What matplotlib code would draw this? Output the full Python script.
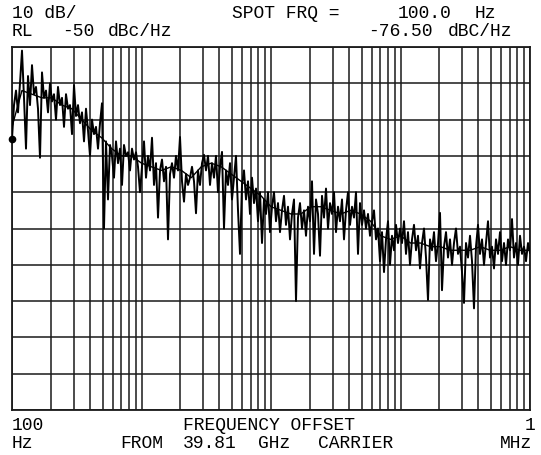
import numpy as np
import matplotlib
matplotlib.use('Agg')
import matplotlib.pyplot as plt

# ---------------------------------------------------------------------------
# Data: phase noise trace, 100 Hz .. 1 MHz offset (dBc/Hz)
# ---------------------------------------------------------------------------

START_HZ = 1e2
STOP_HZ = 1e6
REF_LEVEL = -50      # dBc/Hz, top of screen
DB_PER_DIV = 10
N_DIV = 10

SPOT_FREQ_HZ = 100.0
SPOT_LEVEL = -76.50

# raw trace, 100 Hz .. 1 kHz
decade_1 = [
    -75.3, -66, -62, -68, -60, -51, -64, -78, -58, -66, -55, -63, -61, -67,
    -80.5, -57, -64, -62, -68, -60, -65, -63, -70, -61, -66, -64, -72, -63,
    -67, -66, -74, -60.5, -69, -66, -71, -68, -76, -67, -73, -80, -70, -74,
    -72, -78, -71, -65.5, -100, -76, -92, -77, -80, -86, -76, -82, -78, -88,
    -77, -80, -79, -84, -78, -81, -79, -83, -90,
]
# 1 kHz .. 10 kHz
decade_2 = [
    -83, -76, -86, -80, -84, -75, -88, -82, -97, -84, -81, -87, -83, -103,
    -85, -82, -86, -80, -84, -74.8, -87, -92.6, -85, -88, -86, -83, -87,
    -95.8, -84, -88, -82, -79.7, -84, -80, -88, -82, -86, -80, -90, -83,
    -78.9, -100, -84, -88, -82, -92, -86, -80, -95, -107, -88, -84, -92,
    -87, -96, -86, -93, -89, -98, -90, -104, -92, -96, -90, -101,
]
# 10 kHz .. 100 kHz
decade_3 = [
    -94, -90, -98, -93, -101, -95, -91, -99, -94, -103, -96, -92, -120, -97,
    -93, -100, -95, -102, -94, -98, -87, -107, -92, -96, -107.5, -91, -97,
    -89, -100, -93, -96, -90, -101, -94, -98, -92, -103, -95, -90, -99, -94,
    -97, -90, -107, -93, -99, -95, -100, -96, -102, -98, -95, -103, -100,
    -109, -101, -112, -103, -98, -110, -102, -106, -99, -104, -100,
]
# 100 kHz .. 1 MHz
decade_4 = [
    -104, -98, -107, -101, -110, -103, -99, -106, -102, -111, -104, -100,
    -108, -119.7, -103, -106, -101, -109, -104, -95.7, -117, -105, -101,
    -108, -103, -110, -104, -100, -107, -105, -112, -120.5, -104, -108,
    -102, -109, -122, -105, -99, -107, -103, -110, -104, -98, -108, -105,
    -111, -103, -107, -101, -109, -104, -110, -103, -106, -97.4, -108, -104,
    -110, -102, -107, -105, -109, -104, -106.7,
]

# averaged (smoothed) trace drawn over the raw one
smoothed = [
    -72, -62, -63, -64, -64, -66, -67, -70, -73, -75, -78, -80, -80,
    -82, -83, -84, -83, -84, -86, -83, -82, -83, -85, -87, -89, -91,
    -94, -95, -96, -96, -94, -94, -95, -96, -95, -96, -98, -102, -103,
    -102, -104, -104, -105, -105, -106, -106, -106, -105, -106, -106, -105,
    -106, -106,
]

noise_dbc = np.array(decade_1 + decade_2 + decade_3 + decade_4)
# instrument sweeps log-spaced points across the span
freq_hz = np.logspace(np.log10(START_HZ), np.log10(STOP_HZ), len(noise_dbc))
smooth_hz = np.logspace(np.log10(START_HZ), np.log10(STOP_HZ), len(smoothed))

# ---------------------------------------------------------------------------
# Plot
# ---------------------------------------------------------------------------

W, H = 541, 455
fig = plt.figure(figsize=(W / 100, H / 100), dpi=100)
ax = fig.add_axes([12 / W, 1 - 410 / H, 518 / W, 363 / H])

bottom = REF_LEVEL - N_DIV * DB_PER_DIV
ax.set_xscale('log')
ax.set_xlim(START_HZ, STOP_HZ)
ax.set_ylim(bottom, REF_LEVEL)

# graticule: 1..9 per decade, 10 dB per division
grid_x = [m * 10 ** e for e in range(2, 6) for m in range(1, 10)] + [STOP_HZ]
for gx in grid_x:
    ax.axvline(gx, color='#1a1a1a', linewidth=1.1, zorder=1)
for gy in range(int(bottom), REF_LEVEL + 1, DB_PER_DIV):
    ax.axhline(gy, color='#1a1a1a', linewidth=1.1, zorder=1)

ax.plot(freq_hz, noise_dbc, color='black', linewidth=1.4, zorder=3)
ax.plot(smooth_hz, smoothed, color='black', linewidth=1.0, zorder=3)
ax.plot([SPOT_FREQ_HZ], [noise_dbc[0]], 'o', color='black', markersize=4.5,
        clip_on=False, zorder=4)

ax.set_xticks([])
ax.set_yticks([])
ax.minorticks_off()
for s in ax.spines.values():
    s.set_linewidth(1.3)
    s.set_color('#1a1a1a')

FONT = dict(family='Liberation Mono', fontsize=13, color='black', va='center')


def label(x, y, s, ha='left'):
    fig.text(x / W, 1 - y / H, s, ha=ha, **FONT)


# header
label(12, 13, '10 dB/')
label(232, 13, 'SPOT FRQ =')
label(398, 13, f'{SPOT_FREQ_HZ:.1f}')
label(475, 13, 'Hz')
label(12, 31, 'RL')
label(62, 31, f'{REF_LEVEL}')
label(108, 31, 'dBc/Hz')
label(368, 31, f'{SPOT_LEVEL:.2f}')
label(448, 31, 'dBC/Hz')

# footer
label(12, 425, '100')
label(183, 425, 'FREQUENCY OFFSET')
label(535, 425, '1', ha='right')
label(12, 443, 'Hz')
label(120, 443, 'FROM')
label(183, 443, '39.81')
label(258, 443, 'GHz')
label(318, 443, 'CARRIER')
label(532, 443, 'MHz', ha='right')

fig.savefig('out.png', dpi=100)
